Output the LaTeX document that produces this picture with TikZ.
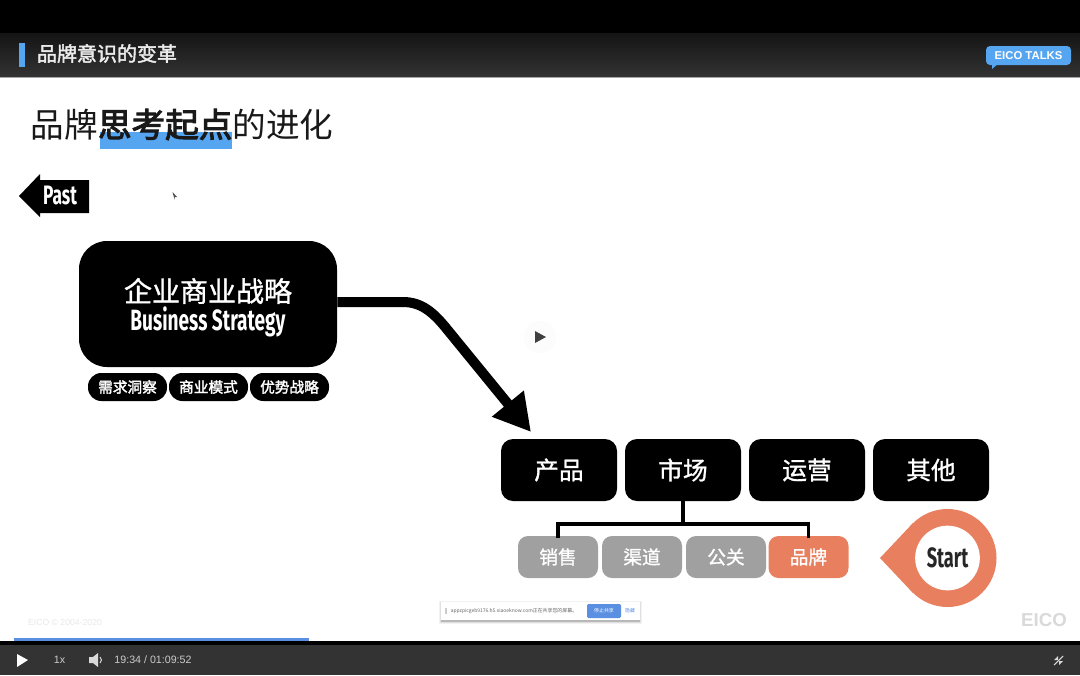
\documentclass[tikz,border=0pt]{standalone}
\usepackage{fontspec}
\setmainfont{Liberation Sans}
\newfontfamily\cjk{Noto Sans CJK SC}
\newfontfamily\cjkm[FakeBold=1.2]{Noto Sans CJK SC}
\newfontfamily\cjks[FakeBold=2.2]{Noto Sans CJK SC}
\newfontfamily\cjkh[FakeBold=3]{Noto Sans CJK SC}
\newfontfamily\cond[FakeStretch=0.65]{Fira Sans}
\usetikzlibrary{arrows.meta}
\definecolor{bluemark}{HTML}{55A5F0}
\definecolor{coral}{HTML}{E8805F}
\definecolor{greybox}{HTML}{A0A0A0}
\definecolor{playerbg}{HTML}{333333}
\definecolor{linkblue}{HTML}{5B8FE2}
\newcommand{\fs}[1]{\fontsize{#1}{#1}\selectfont}
\tikzset{
  bigbox/.style={fill=black,rounded corners=9pt,minimum width=87pt,minimum height=46.5pt,inner sep=0pt,text=white,font=\cjkm\fs{18.5}},
  smallbox/.style={fill=greybox,rounded corners=7.5pt,minimum width=60pt,minimum height=31.5pt,inner sep=0pt,text=white,font=\cjkm\fs{14}},
  pill/.style={fill=black,rounded corners=10pt,minimum width=59.25pt,minimum height=21pt,inner sep=0pt,text=white,font=\cjks\fs{11}},
  tree/.style={draw=black,line width=2.7pt},
  playertext/.style={text=white!80!black,inner sep=0pt,font=\fs{8}}
}
\begin{document}
\begin{tikzpicture}[x=.75pt,y=-.75pt]
\useasboundingbox (0,0) rectangle (1080,675);
% frame
\fill[white] (0,0) rectangle (1080,675);
\fill[black] (0,0) rectangle (1080,34);
\shade[top color=black!92!white,bottom color=black!80!white] (0,33) rectangle (1080,77);
\fill[black!35] (0,76.5) rectangle (1080,77.5);
\fill[bluemark] (19,43) rectangle (25,67);
\node[text=white!92!black,inner sep=0pt,font=\cjks\fs{15}] (head) at (107,53.5) {品牌意识的变革};
% badge
\fill[bluemark,rounded corners=3pt] (986,46) rectangle (1071,65);
\fill[bluemark] (992,63) -- (999,63) -- (992,69) -- cycle;
\node[text=white,inner sep=0pt,font=\fs{8.5}\bfseries] (badge) at (1028.5,55.5) {EICO TALKS};
% title
\fill[bluemark] (100,132) rectangle (232,148.5);
\node[text=black!90,inner sep=0pt,font=\cjk\fs{25.2}] (title) at (182,124.5) {品牌{\cjkh 思考起点}的进化};
% past
\fill[black] (19,196) -- (40,174) -- (40,180) -- (89,180) -- (89,213) -- (40,213) -- (40,217) -- cycle;
\node[text=white,inner sep=0pt,font=\cond\fs{20}\bfseries] (past) at (60,195) {Past};
% cursor
\fill[black!70] (172.5,192) -- (177,197) -- (174.5,197) -- (174.5,199.5) -- cycle;
% main box
\node[fill=black,rounded corners=21pt,minimum width=193.5pt,minimum height=94.5pt,inner sep=0pt] (biz) at (208,304) {};
\node[text=white,inner sep=0pt,font=\cjkm\fs{21}] (bizcn) at (208,291) {企业商业战略};
\node[text=white,inner sep=0pt,font=\cond\fs{22}\bfseries] (bizen) at (208,322) {Business Strategy};
\node[pill] (p1) at (127.5,387) {需求洞察};
\node[pill] (p2) at (208.5,387) {商业模式};
\node[pill] (p3) at (289.5,387) {优势战略};
% row
\node[bigbox] (n1) at (559,470) {产品};
\node[bigbox] (n2) at (683,470) {市场};
\node[bigbox] (n3) at (807,470) {运营};
\node[bigbox] (n4) at (931,470) {其他};
\node[smallbox] (s1) at (558,557) {销售};
\node[smallbox] (s2) at (642,557) {渠道};
\node[smallbox] (s3) at (726,557) {公关};
\node[smallbox,fill=coral] (s4) at (808.5,557) {品牌};
% tree
\coordinate (bus) at (683,524);
\draw[tree] (n2.south) -- (bus);
\draw[tree,line cap=rect] (s1.north) |- (bus);
\draw[tree,line cap=rect] (s4.north) |- (bus);
% big arrow
\coordinate (tip) at (531,432);
\draw[line width=7.5pt,-{Triangle[length=27.5pt,width=29pt]}] ([yshift=1.5pt]biz.east) -- (403,302) .. controls (421,302) and (433,312) .. (446,328) -- (tip);
% video play
\fill[black!1] (540,337) circle (16);
\fill[black!75] (535,331) -- (546,337) -- (535,343) -- cycle;
% start marker
\node[circle,fill=coral,minimum size=73.5pt,inner sep=0pt] (ring) at (947.5,558) {};
\fill[coral] (880,558) -- (913,523) -- (913,593) -- cycle;
\node[circle,fill=white,minimum size=48.5pt,inner sep=0pt,text=black!85,font=\cond\fs{21}\bfseries] (start) at (947.5,558) {Start};
% watermarks
\node[text=black!9,inner sep=0pt,font=\fs{6.5}] (copy) at (65,622.5) {EICO © 2004-2020};
\node[text=black!15,inner sep=0pt,font=\fs{14}\bfseries] (eico) at (1044,620) {EICO};
% share dialog
\fill[black!5] (439,601) rectangle (642,624);
\fill[black!12] (440,602) rectangle (641,623);
\fill[black!28] (441,604) rectangle (640,621.5);
\fill[white] (441,602) rectangle (640,620);
\fill[black!20] (445,608) rectangle (447,614);
\node[text=black!60,inner sep=0pt,font=\cjk\fs{3.7}] (share) at (514,611) {appzpicgeb9176.h5.xiaoeknow.com正在共享您的屏幕。};
\node[fill=linkblue,rounded corners=1pt,minimum width=25.5pt,minimum height=10.5pt,inner sep=0pt,text=white,font=\cjk\fs{3.7}] (stop) at (604,611) {停止共享};
\node[text=linkblue,inner sep=0pt,font=\cjk\fs{3.7}] (hide) at (630,611) {隐藏};
% progress
\fill[playerbg] (0,645) rectangle (1080,675);
\fill[black] (0,641) rectangle (1080,645);
\fill[linkblue] (14,638) rectangle (309,640.5);
% player
\fill[white] (17,654) -- (28,660) -- (17,667) -- cycle;
\node[playertext] (rate) at (59.5,660) {1x};
\fill[white!85!black] (89,657) -- (93,657) -- (98,653) -- (98,667) -- (93,663) -- (89,663) -- cycle;
\draw[white!85!black,line width=.8pt] (100,657) .. controls (102,659) and (102,661) .. (100,663);
\node[playertext] (time) at (153,660) {19:34 / 01:09:52};
\draw[white!85!black,line width=.8pt] (1054,665) -- (1058.5,660.5) (1063,656) -- (1058.5,660.5);
\fill[white!85!black] (1058,660) -- (1058,656) -- (1054,660) -- cycle;
\fill[white!85!black] (1059,661) -- (1063,661) -- (1059,665) -- cycle;
\end{tikzpicture}
\end{document}
